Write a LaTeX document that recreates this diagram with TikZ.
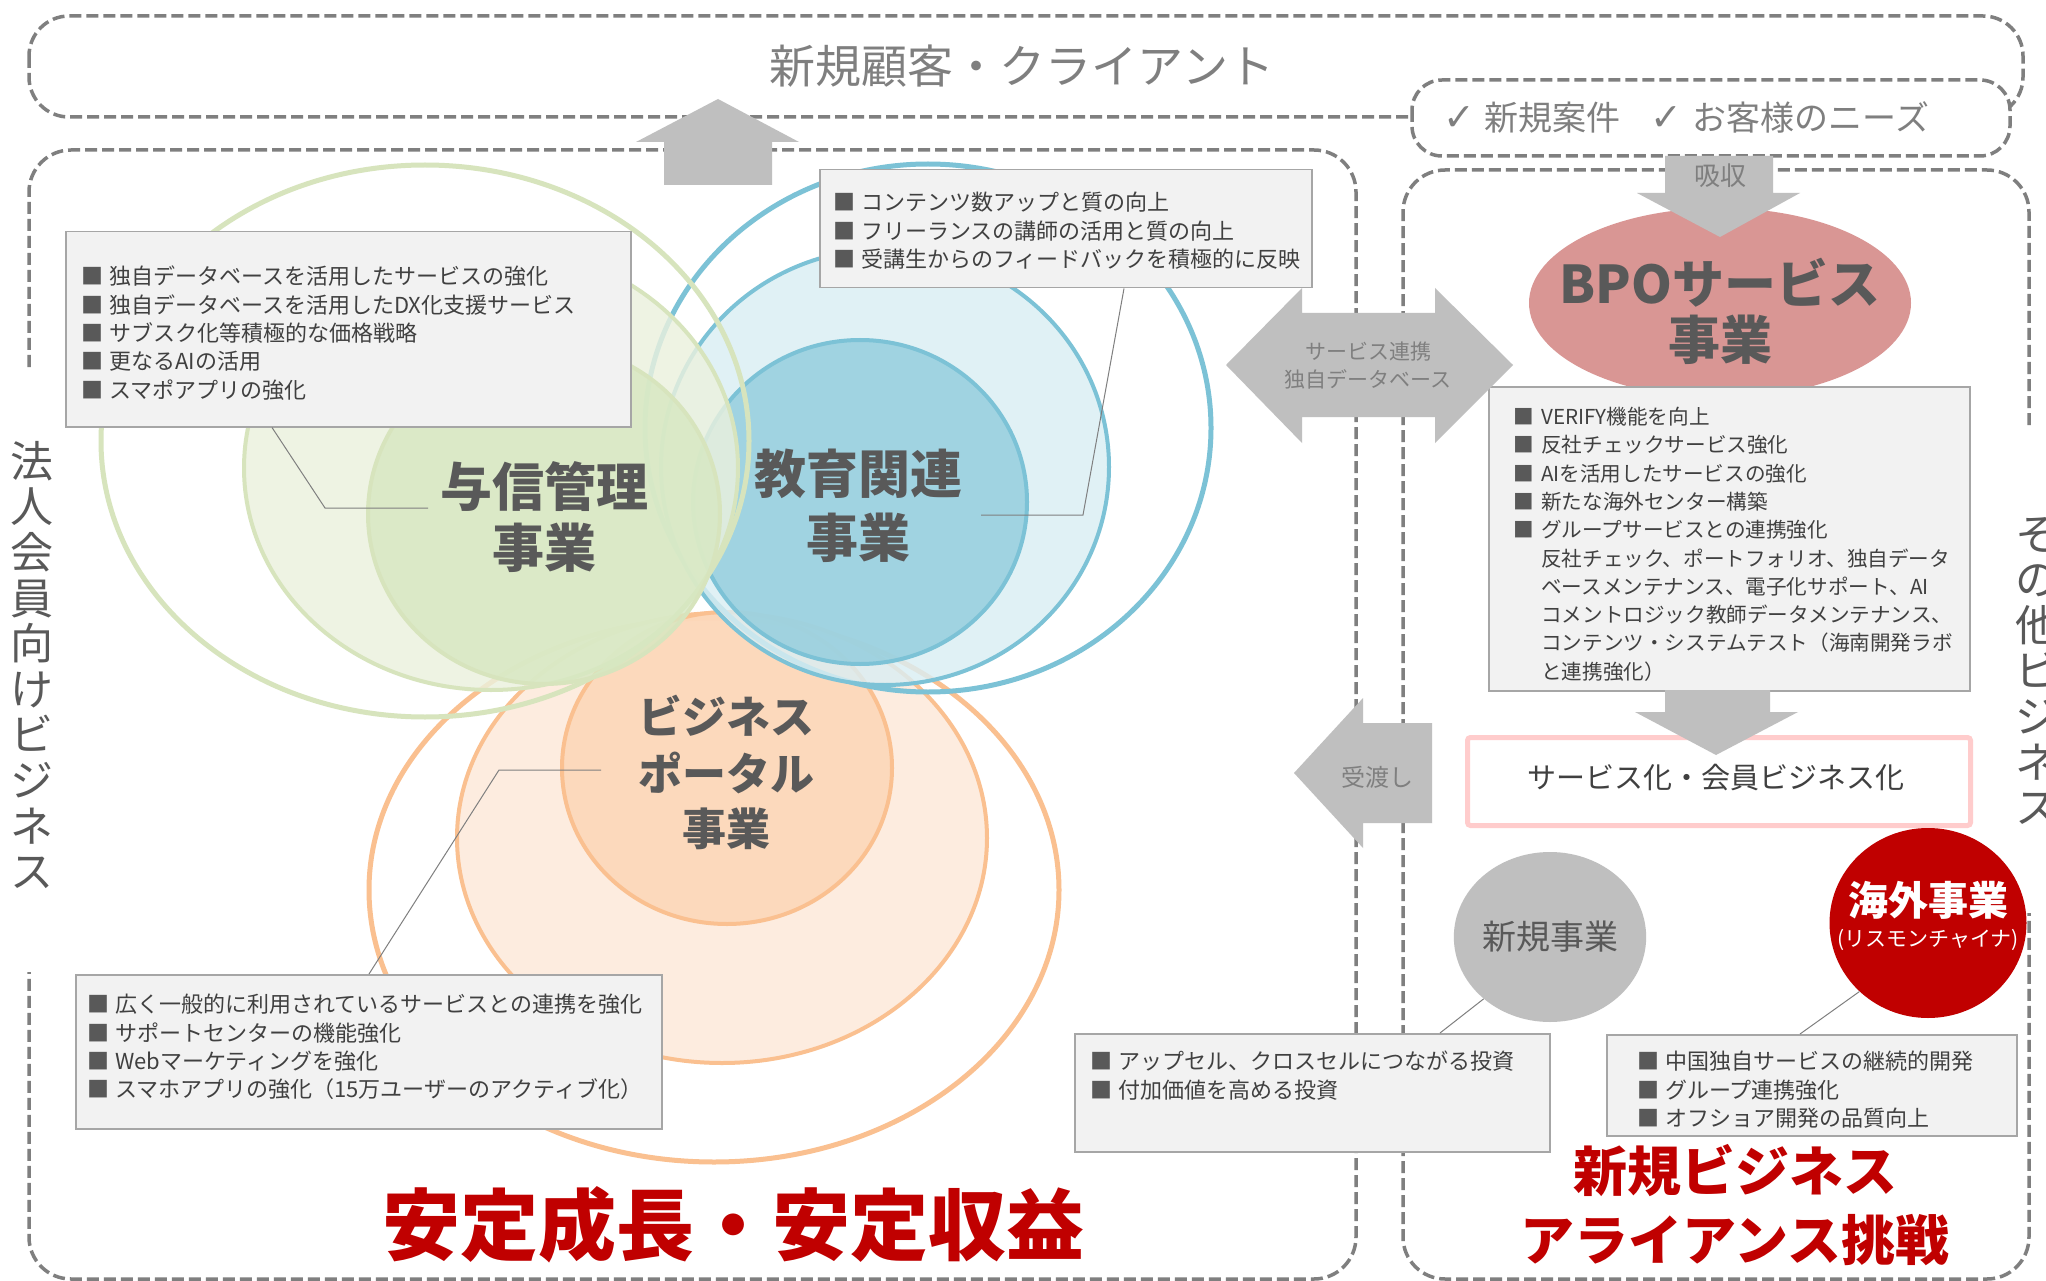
\documentclass[tikz,border=0pt]{standalone}
\usepackage{fontspec}
\setmainfont{Noto Sans CJK JP}
\newfontfamily\dvs{DejaVu Sans}
\usetikzlibrary{shapes.geometric}
\definecolor{dgray}{HTML}{7F7F7F}
\definecolor{arrg}{HTML}{BFBFBF}
\definecolor{txtd}{HTML}{595959}
\definecolor{txtl}{HTML}{404040}
\definecolor{boxf}{HTML}{F2F2F2}
\definecolor{boxb}{HTML}{A6A6A6}
\definecolor{redd}{HTML}{C00000}
\definecolor{bpoc}{HTML}{D99694}
\definecolor{pinkb}{HTML}{FFCCCC}
\definecolor{gL}{HTML}{D7E4BD}
\definecolor{gM}{HTML}{EBF1DE}
\definecolor{gI}{HTML}{D7E8C2}
\definecolor{bL}{HTML}{7CC2D6}
\definecolor{bM}{HTML}{DAEEF3}
\definecolor{bI}{HTML}{93CDDD}
\definecolor{oL}{HTML}{FAC090}
\definecolor{oM}{HTML}{FDE9D9}
\definecolor{oI}{HTML}{FCD5B5}
\newcommand{\bu}{\makebox[28pt][l]{\textcolor{txtd}{■}}}
\newcommand{\ind}{\hspace*{28pt}}
\newcommand{\chk}{{\dvs\fontsize{38}{40}\selectfont ✓}}
\begin{document}
\begin{tikzpicture}[x=1pt,y=-1pt,
  dbox/.style={draw=dgray, line width=3.5pt, dash pattern=on 12pt off 5pt, rounded corners=42pt},
  listbox/.style={draw=boxb, fill=boxf, line width=1.5pt, inner sep=0pt, anchor=north west},
  listtxt/.style={anchor=north west, inner sep=0pt, align=left, text=txtl, font=\fontsize{22}{28.3}\selectfont},
  garrow/.style={fill=arrg},
  leader/.style={draw=dgray, line width=1pt},
  venntxt/.style={text=txtd, inner sep=0pt, font=\bfseries\fontsize{52}{60}\selectfont},
  arrtxt/.style={text=dgray, inner sep=0pt},
  redtxt/.style={text=redd, inner sep=0pt},
  vtext/.style={text=txtd, inner sep=0pt, align=center, font=\fontsize{43}{45.6}\selectfont},
  ring/.style={line width=5pt},
  disk/.style={line width=4pt, fill opacity=0.82}
]
\useasboundingbox (0,0) rectangle (2046,1281);
\fill[white] (0,0) rectangle (2046,1281);

% dashed frames
\draw[dbox, rounded corners=40pt] (29,16) rectangle (2023,117);
\draw[dbox, rounded corners=30pt, fill=white] (1412,80) rectangle (2010,156);
\draw[dbox] (29,367) -- (29,150) -- (1356,150) -- (1356,1279) -- (29,1279) -- (29,972);
\draw[dbox] (2029,425) -- (2029,170) -- (1403,170) -- (1403,1279) -- (2029,1279) -- (2029,913);

% Venn: orange
\draw[ring, draw=oL] (714,890) ellipse [x radius=345pt, y radius=272pt];
\draw[disk, draw=oL, fill=oM] (722,838) ellipse [x radius=265pt, y radius=225pt];
\draw[disk, draw=oL, fill=oI] (727,768) ellipse [x radius=165pt, y radius=156pt];
% blue
\draw[ring, draw=bL] (928,428) ellipse [x radius=283pt, y radius=264pt];
\draw[disk, draw=bL, fill=bM] (885,467) ellipse [x radius=224pt, y radius=218pt];
\draw[disk, draw=bL, fill=bI] (860,502) ellipse [x radius=167pt, y radius=162pt];
% green
\draw[ring, draw=gL] (425,441) ellipse [x radius=324pt, y radius=276pt];
\draw[disk, draw=gL, fill=gM] (491,468) ellipse [x radius=247pt, y radius=222pt];
\draw[disk, draw=gL, fill=gI] (544,514) ellipse [x radius=176pt, y radius=170pt];

% venn labels
\node[venntxt] (t1) at (544,487) {与信管理};
\node[venntxt] (t1b) at (544,548) {事業};
\node[venntxt] (t2) at (858,474) {教育関連};
\node[venntxt] (t2b) at (858,538) {事業};
\node[venntxt, font=\bfseries\fontsize{44}{50}\selectfont] (t3) at (726,716) {ビジネス};
\node[venntxt, font=\bfseries\fontsize{44}{50}\selectfont] (t3b) at (726,773) {ポータル};
\node[venntxt, font=\bfseries\fontsize{44}{50}\selectfont] (t3c) at (726,829) {事業};

% list boxes
\node[listbox, minimum width=565pt, minimum height=195pt] (gbox) at (65,231) {};
\node[listtxt] (gtxt) at (81,266) {\bu 独自データベースを活用したサービスの強化\\\bu 独自データベースを活用したDX化支援サービス\\\bu サブスク化等積極的な価格戦略\\\bu 更なるAIの活用\\\bu スマポアプリの強化};
\node[listbox, minimum width=492pt, minimum height=118pt] (bbox) at (819,169) {};
\node[listtxt] (btxt) at (833,192) {\bu コンテンツ数アップと質の向上\\\bu フリーランスの講師の活用と質の向上\\\bu 受講生からのフィードバックを積極的に反映};
\node[listbox, minimum width=586pt, minimum height=154pt] (obox) at (75,974) {};
\node[listtxt] (otxt) at (87,994) {\bu 広く一般的に利用されているサービスとの連携を強化\\\bu サポートセンターの機能強化\\\bu Webマーケティングを強化\\\bu スマホアプリの強化（15万ユーザーのアクティブ化）};

% leaders
\coordinate (g1) at (325,508); \coordinate (g2) at (428,508);
\draw[leader] ([xshift=207pt]gbox.south west) -- (g1) -- (g2);
\coordinate (b1) at (1083,515); \coordinate (b2) at (981,515);
\draw[leader] ([xshift=305pt]bbox.south west) -- (b1) -- (b2);
\coordinate (o1) at (499,770); \coordinate (o2) at (601,770);
\draw[leader] ([xshift=294pt]obox.north west) -- (o1) -- (o2);

% BPO
\node[ellipse, fill=bpoc, minimum width=382pt, minimum height=190pt, inner sep=0pt] (bpo) at (1720,303) {};
\node[venntxt] (bpot) at (1720,283) {BPOサービス};
\node[venntxt] (bpotb) at (1720,340) {事業};
\node[listbox, minimum width=481pt, minimum height=304pt] (pbox) at (1488,386) {};
\node[listtxt, font=\fontsize{20.6}{28.3}\selectfont] (ptxt) at (1513,407) {\bu VERIFY機能を向上\\\bu 反社チェックサービス強化\\\bu AIを活用したサービスの強化\\\bu 新たな海外センター構築\\\bu グループサービスとの連携強化\\\ind 反社チェック、ポートフォリオ、独自データ\\\ind ベースメンテナンス、電子化サポート、AI\\\ind コメントロジック教師データメンテナンス、\\\ind コンテンツ・システムテスト（海南開発ラボ\\\ind と連携強化）};

% arrows
\fill[garrow] (718,99) -- (799,142) -- (772,142) -- (772,185) -- (664,185) -- (664,142) -- (636,142) -- cycle;
\fill[garrow] (1226,365) -- (1302,288) -- (1302,313) -- (1435,313) -- (1435,288) -- (1513,365) -- (1435,443) -- (1435,417) -- (1302,417) -- (1302,443) -- cycle;
\node[arrtxt, font=\fontsize{21}{26}\selectfont] (sv1) at (1368,352) {サービス連携};
\node[arrtxt, font=\fontsize{21}{26}\selectfont] (sv2) at (1368,379) {独自データベース};
\fill[garrow] (1294,773) -- (1363,698) -- (1363,723) -- (1432,723) -- (1432,823) -- (1363,823) -- (1363,848) -- cycle;
\node[arrtxt, font=\fontsize{24}{28}\selectfont] (uw) at (1377,777) {受渡し};
\fill[garrow] (1665,156) -- (1773,156) -- (1773,193) -- (1800,193) -- (1720,237) -- (1637,193) -- (1665,193) -- cycle;
\node[arrtxt, font=\fontsize{26}{30}\selectfont] (kyu) at (1720,176) {吸収};

% service box
\node[draw=pinkb, line width=5pt, fill=white, rounded corners=3pt, minimum width=503pt, minimum height=88pt, anchor=north west, inner sep=0pt] (sbox) at (1465,735) {};
\fill[garrow] (1665,690) -- (1770,690) -- (1770,712) -- (1798,712) -- (1716,755) -- (1635,712) -- (1665,712) -- cycle;
\node[text=txtl, inner sep=0pt, font=\fontsize{29}{34}\selectfont] (stxt) at (1716,778) {サービス化・会員ビジネス化};

% new business circles
\node[ellipse, fill=arrg, minimum width=185pt, minimum height=170pt, inner sep=0pt, text=txtd, font=\fontsize{34}{40}\selectfont] (shin) at (1550,937) {新規事業};
\node[ellipse, fill=redd, minimum width=197pt, minimum height=190pt, inner sep=0pt] (hai) at (1928,923) {};
\node[text=white, inner sep=0pt, font=\bfseries\fontsize{40}{46}\selectfont] (hait) at (1928,900) {海外事業};
\node[text=white, inner sep=0pt, font=\fontsize{21}{26}\selectfont] (haib) at (1928,940) {(リスモンチャイナ)};
\node[listbox, minimum width=475pt, minimum height=118pt] (ubox) at (1074,1033) {};
\node[listtxt] (utxt) at (1090,1051) {\bu アップセル、クロスセルにつながる投資\\\bu 付加価値を高める投資};
\node[listbox, minimum width=410pt, minimum height=101pt] (cbox) at (1606,1034) {};
\node[listtxt] (ctxt) at (1637,1051) {\bu 中国独自サービスの継続的開発\\\bu グループ連携強化\\\bu オフショア開発の品質向上};
\draw[leader] (shin.223) -- ([xshift=366pt]ubox.north west);
\draw[leader] (hai.225) -- ([xshift=194pt]cbox.north west);

% titles
\node[text=dgray, inner sep=0pt, font=\fontsize{46}{52}\selectfont] (top) at (1022,66) {新規顧客・クライアント};
\node[text=dgray, inner sep=0pt, font=\fontsize{34}{40}\selectfont] (need) at (1686,117) {\chk\hspace{10pt}新規案件\hspace{30pt}\chk\hspace{10pt}お客様のニーズ};
\node[redtxt, font=\bfseries\fontsize{78}{90}\selectfont] (ant) at (733,1225) {安定成長・安定収益};
\node[redtxt, font=\bfseries\fontsize{54}{60}\selectfont] (nb1) at (1735,1171) {新規ビジネス};
\node[redtxt, font=\bfseries\fontsize{54}{60}\selectfont] (nb2) at (1735,1240) {アライアンス挑戦};
\node[vtext] (vl) at (32,665) {法\\人\\会\\員\\向\\け\\ビ\\ジ\\ネ\\ス};
\node[vtext] (vr) at (2037,671) {そ\\の\\他\\ビ\\ジ\\ネ\\ス};
\end{tikzpicture}
\end{document}
